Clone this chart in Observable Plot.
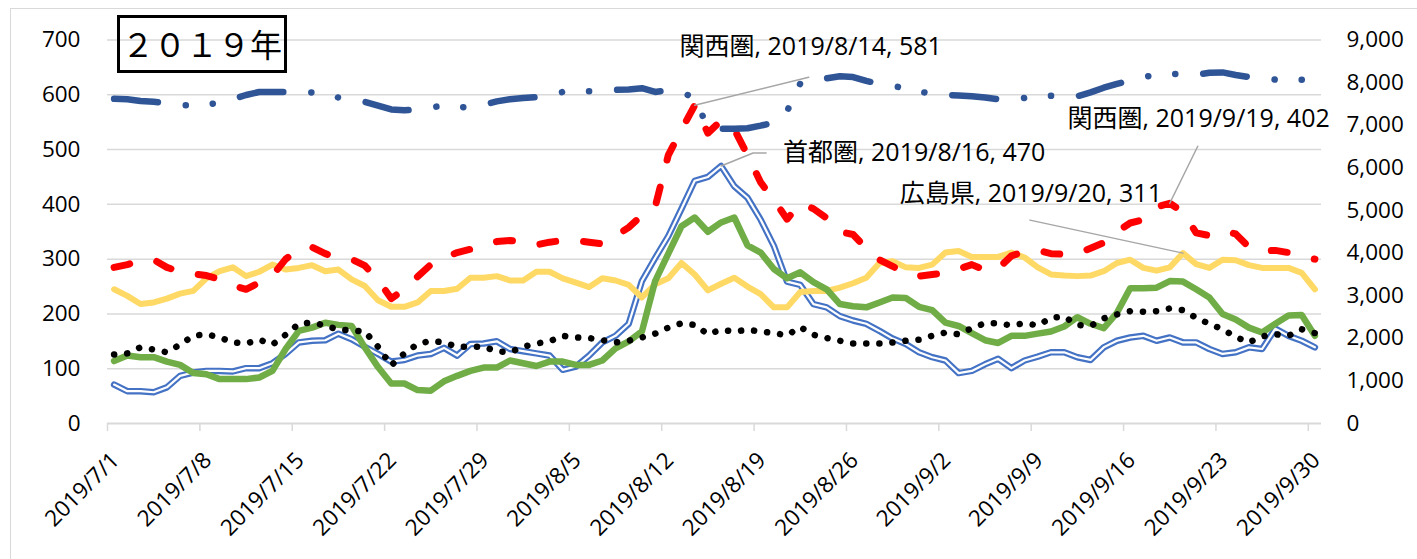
<!DOCTYPE html>
<html><head><meta charset="utf-8">
<script src="https://cdn.jsdelivr.net/npm/d3@7"></script>
<script src="https://cdn.jsdelivr.net/npm/@observablehq/plot@0.6"></script>
<style>
html,body{margin:0;padding:0;background:#fff;}
#wrap{position:relative;width:1417px;height:559px;overflow:hidden;background:#fff;}
#frame{position:absolute;left:10px;top:8px;width:1440px;height:600px;border:1.5px solid #d9d9d9;box-sizing:border-box;}
#chart{position:absolute;left:0;top:0;}
#year{position:absolute;left:117px;top:15px;width:170px;height:58px;border:3px solid #000;box-sizing:border-box;font-family:"Noto Sans CJK JP",sans-serif;font-size:32px;line-height:50px;text-align:center;color:#000;white-space:nowrap;overflow:hidden;}
</style></head><body>
<div id="wrap"><div id="frame"></div><div id="chart"></div><div id="year">２０１９年</div></div>
<script>
// ---- data ----
const startDay = "2019-07-01";
const dayCount = 92;
const xTickLabels = ["2019/7/1","2019/7/8","2019/7/15","2019/7/22","2019/7/29","2019/8/5","2019/8/12","2019/8/19","2019/8/26","2019/9/2","2019/9/9","2019/9/16","2019/9/23","2019/9/30"];
const leftTicks = [0,100,200,300,400,500,600,700];
const rightTicks = [0,1000,2000,3000,4000,5000,6000,7000,8000,9000];

// secondary (right) axis series
const zenkoku = [7620,7610,7570,7550,7520,7470,7470,7480,7530,7610,7710,7780,7780,7780,7780,7770,7710,7650,7600,7550,7460,7370,7350,
7370,7420,7460,7420,7430,7480,7560,7610,7640,7660,7710,7780,7800,7800,7820,7830,7840,7870,7780,7820,7770,7640,6940,
6920,6920,6930,6990,7060,7330,7980,8050,8100,8150,8130,8040,7970,7920,7870,7790,7740,7710,7700,7680,7650,7610,7610,
7640,7680,7690,7680,7680,7770,7880,7970,8050,8130,8180,8200,8200,8180,8230,8240,8180,8130,8100,8070,8070,8070,8070];
// primary (left) axis series
const shutoken = [71,59,59,57,66,87,93,96,96,95,101,101,110,127,148,151,152,164,154,140,127,113,116,
124,127,138,124,145,146,150,136,132,128,124,98,104,124,148,160,182,260,302,342,392,443,450,
470,433,412,372,324,259,253,218,212,196,188,182,169,155,145,130,121,115,92,96,108,118,101,
115,122,130,130,121,116,139,151,157,160,151,157,148,148,136,127,130,139,136,173,160,151,139];
const kansai = [285,290,297,299,285,277,273,270,263,252,245,257,270,300,318,322,310,302,300,288,262,228,245,
268,290,303,312,318,325,332,334,332,326,331,334,334,331,328,342,358,380,395,490,536,581,530,
553,537,490,440,408,373,402,392,375,350,345,320,299,287,274,269,272,275,282,290,280,283,306,
314,316,310,309,310,320,330,350,366,372,395,402,386,348,343,352,346,322,315,316,312,305,300];
const hiroshima = [245,233,218,221,228,237,242,265,278,285,269,277,290,281,284,289,278,281,263,251,225,213,213,
221,242,242,246,266,266,269,261,261,277,277,265,257,249,265,261,253,230,254,265,293,272,243,
255,266,250,236,212,212,240,242,242,248,256,266,293,296,285,284,290,312,315,304,304,304,312,
303,285,272,270,269,270,278,293,299,284,279,285,311,291,284,299,298,289,284,284,284,275,245];
const seriesGreen = [114,124,121,121,113,107,92,90,81,81,81,84,96,136,169,175,184,180,178,139,103,73,73,
61,60,77,87,96,102,102,115,110,105,113,113,107,107,115,137,150,168,260,310,360,376,350,
367,376,325,312,282,265,276,258,245,218,214,212,221,230,229,213,207,184,178,165,152,147,160,
160,164,168,177,194,182,174,202,247,247,248,260,259,245,230,200,190,175,166,182,197,198,160];
const seriesDotted = [126,128,139,135,130,144,160,163,157,148,146,153,144,162,182,184,179,171,170,168,140,106,128,
145,151,148,140,140,140,132,130,140,146,150,160,157,156,152,148,151,157,164,175,183,180,163,
171,168,171,168,165,161,176,162,156,151,146,146,146,148,151,153,160,166,163,174,183,183,179,
183,179,193,195,180,178,192,199,205,204,205,210,207,193,182,172,158,148,159,163,160,172,165];

const annotations = [
  {name:"関西圏", date:"2019/8/14", series:"kansai"},
  {name:"首都圏", date:"2019/8/16", series:"shutoken"},
  {name:"広島県", date:"2019/9/20", series:"hiroshima"},
  {name:"関西圏", date:"2019/9/19", series:"kansai"}
];

// ---- layout / style (not data) ----
const W = 1417, H = 559, mL = 107, mR = 96, mT = 39.5, mB = 136;
const labelLayout = [
  {anchor:"middle", dx:116, dy:-58, leader:[[0,0],[114,-28]]},
  {anchor:"start", dx:62, dy:-13, leader:[[0,0],[32,-13],[45,-13]]},
  {anchor:"end", dx:-21, dy:-59, leader:[[0,0],[-153,-33]]},
  {anchor:"end", dx:160, dy:-84, leader:[[0,0],[28,-57]]}
];

const parseSlash = s => { const [y,m,d] = s.split("/").map(Number); return new Date(Date.UTC(y, m-1, d)); };
const day0 = new Date(startDay + "T00:00:00Z");
const days = d3.range(dayCount).map(i => d3.utcDay.offset(day0, i));
const xStart = days[0], xEnd = d3.utcDay.offset(days[dayCount-1], 1);
const mid = d => new Date(d.getTime() + 12*3600e3);
const R = 700 / 9000; // right-axis units -> left-axis units

const rows = (arr, k = 1) => arr.map((v, i) => ({date: mid(days[i]), value: v * k}));
const seriesMap = {kansai, shutoken, hiroshima};
const xTicks = xTickLabels.map(s => ({date: parseSlash(s), label: s}));

const kx = (W - mL - mR) / (xEnd - xStart);
const ky = (H - mT - mB) / 700;

const ann = annotations.map((a, j) => {
  const d = parseSlash(a.date);
  const i = d3.utcDay.count(day0, d);
  const v = seriesMap[a.series][i];
  return {id: j, date: mid(d), value: v, text: `${a.name}, ${a.date}, ${v}`, ...labelLayout[j]};
});
const leaderPts = ann.flatMap(a => a.leader.map(([ox, oy]) => ({
  id: a.id, date: new Date(a.date.getTime() + ox / kx), value: a.value - oy / ky
})));

const font = '"Open Sans","Noto Sans CJK JP",sans-serif';
const xy = {x: "date", y: "value"};

const chart = Plot.plot({
  width: W, height: H,
  marginLeft: mL, marginRight: mR, marginTop: mT, marginBottom: mB,
  x: {type: "utc", domain: [xStart, xEnd], label: null},
  y: {domain: [0, 700], label: null},
  style: {fontFamily: font, fontSize: "22px", color: "#000", background: "transparent", overflow: "visible"},
  marks: [
    Plot.gridY(leftTicks.filter(d => d > 0), {stroke: "#d9d9d9", strokeOpacity: 1, strokeWidth: 1.5}),
    Plot.ruleY([0], {stroke: "#d9d9d9", strokeWidth: 2}),
    Plot.axisX(xTicks.map(d => d.date), {tickSize: 8, stroke: "#d9d9d9", strokeOpacity: 1, strokeWidth: 1.5,
      tickFormat: () => "", label: null}),
    Plot.text(xTicks, {x: "date", y: () => 0, text: "label", rotate: -45, textAnchor: "end", lineAnchor: "middle",
      dx: 8, dy: 33, fontSize: 22.5, fill: "#000"}),
    Plot.axisY(leftTicks, {anchor: "left", tickSize: 0, tickPadding: 27, fill: "#000", fontSize: 22.5, label: null}),
    Plot.axisY(rightTicks.map(v => v * R), {anchor: "right", tickSize: 0, tickPadding: 25, fill: "#000", fontSize: 22.5, label: null,
      textAnchor: "start", tickFormat: v => d3.format(",")(Math.round(v / R))}),
    // 首都圏 (double line)
    Plot.line(rows(shutoken), {...xy, stroke: "#4472C4", strokeWidth: 6.5}),
    Plot.line(rows(shutoken), {...xy, stroke: "#ffffff", strokeWidth: 2.2}),
    // 広島県
    Plot.line(rows(hiroshima), {...xy, stroke: "#FFD966", strokeWidth: 6}),
    // green series
    Plot.line(rows(seriesGreen), {...xy, stroke: "#70AD47", strokeWidth: 6.5}),
    // dotted series
    Plot.line(rows(seriesDotted), {...xy, stroke: "#000", strokeWidth: 6.5, strokeDasharray: "0.1,13", strokeLinecap: "round"}),
    // 関西圏
    Plot.line(rows(kansai), {...xy, stroke: "#FF0000", strokeWidth: 7, strokeDasharray: "16,28", strokeLinecap: "round"}),
    // right-axis series
    Plot.line(rows(zenkoku, R), {...xy, stroke: "#2F5597", strokeWidth: 6.5, strokeDasharray: "44,28,0.1,27,0.1,28", strokeLinecap: "round"}),
    // annotation leaders + labels
    Plot.line(leaderPts, {...xy, z: "id", stroke: "#a6a6a6", strokeWidth: 1.5}),
    ...ann.map(a => Plot.text([a], {...xy, text: "text", dx: a.dx, dy: a.dy, textAnchor: a.anchor,
      fontSize: 25, fill: "#000", fontFamily: font}))
  ]
});
document.getElementById("chart").appendChild(chart);
</script>
</body></html>
